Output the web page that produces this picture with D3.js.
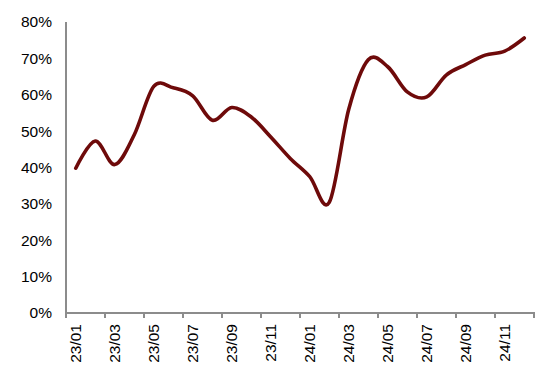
<!DOCTYPE html>
<html>
<head>
<meta charset="utf-8">
<script src="https://cdn.jsdelivr.net/npm/d3@7"></script>
<style>
  html, body { margin: 0; padding: 0; background: #fff; }
  svg { display: block; }
  text { font-family: "Liberation Sans", Arial, sans-serif; fill: #000; }
</style>
</head>
<body>
<svg id="chart" width="550" height="378"></svg>
<script>
const months = ["23/01","23/02","23/03","23/04","23/05","23/06","23/07","23/08","23/09","23/10","23/11","23/12",
                "24/01","24/02","24/03","24/04","24/05","24/06","24/07","24/08","24/09","24/10","24/11","24/12"];
const values = [39.8, 47.3, 40.8, 49.0, 62.3, 61.9, 59.7, 53.0, 56.5, 53.9, 48.4, 42.5,
                37.5, 30.4, 56.0, 69.6, 67.7, 60.8, 59.4, 65.4, 68.3, 70.9, 72.0, 75.6];
const yTicks = [0, 10, 20, 30, 40, 50, 60, 70, 80];

(function () {
const svg = d3.select("#chart");
const mLeft = 66, mRight = 534, mTop = 22, mBottom = 313;

const x = d3.scaleBand().domain(months).range([mLeft, mRight]).paddingInner(0).paddingOuter(0);
const y = d3.scaleLinear().domain([0, 80]).range([mBottom, mTop]);

// Y axis
const yAxis = d3.axisLeft(y).tickValues(yTicks).tickSize(0).tickPadding(14).tickFormat(d => d + "%");
const gy = svg.append("g").attr("transform", `translate(${mLeft},0)`).call(yAxis);
gy.select(".domain").remove();
gy.selectAll("text").attr("font-size", "15.5px").attr("font-family", "Liberation Sans, Arial, sans-serif").attr("fill", "#000");

svg.append("line")
  .attr("x1", mLeft).attr("x2", mLeft).attr("y1", y(80)).attr("y2", mBottom)
  .attr("stroke", "#8c8c8c").attr("stroke-width", 2);

// X axis
svg.append("line")
  .attr("x1", mLeft - 1).attr("x2", mRight + 1).attr("y1", mBottom).attr("y2", mBottom)
  .attr("stroke", "#8c8c8c").attr("stroke-width", 2);

const tickPos = months.filter((d, i) => i % 2 === 0).map(d => x(d)).concat([x.range()[1]]);
svg.append("g").selectAll("line").data(tickPos).join("line")
  .attr("x1", d => d).attr("x2", d => d)
  .attr("y1", mBottom).attr("y2", mBottom + 5)
  .attr("stroke", "#8c8c8c").attr("stroke-width", 2);

const labelMonths = months.filter((d, i) => i % 2 === 0);
svg.append("g").selectAll("text").data(labelMonths).join("text")
  .attr("transform", d => `translate(${x(d) + x.bandwidth() / 2},${mBottom + 11}) rotate(-90)`)
  .attr("text-anchor", "end")
  .attr("dy", "0.36em")
  .attr("font-size", "15.5px")
  .text(d => d);

// Line
const line = d3.line()
  .x((d, i) => x(months[i]) + x.bandwidth() / 2)
  .y(d => y(d))
  .curve(d3.curveCatmullRom.alpha(0));

svg.append("path")
  .datum(values)
  .attr("d", line)
  .attr("fill", "none")
  .attr("stroke", "#6e0a0a")
  .attr("stroke-width", 3.6)
  .attr("stroke-linecap", "round")
  .attr("stroke-linejoin", "round");
})();
</script>
</body>
</html>
